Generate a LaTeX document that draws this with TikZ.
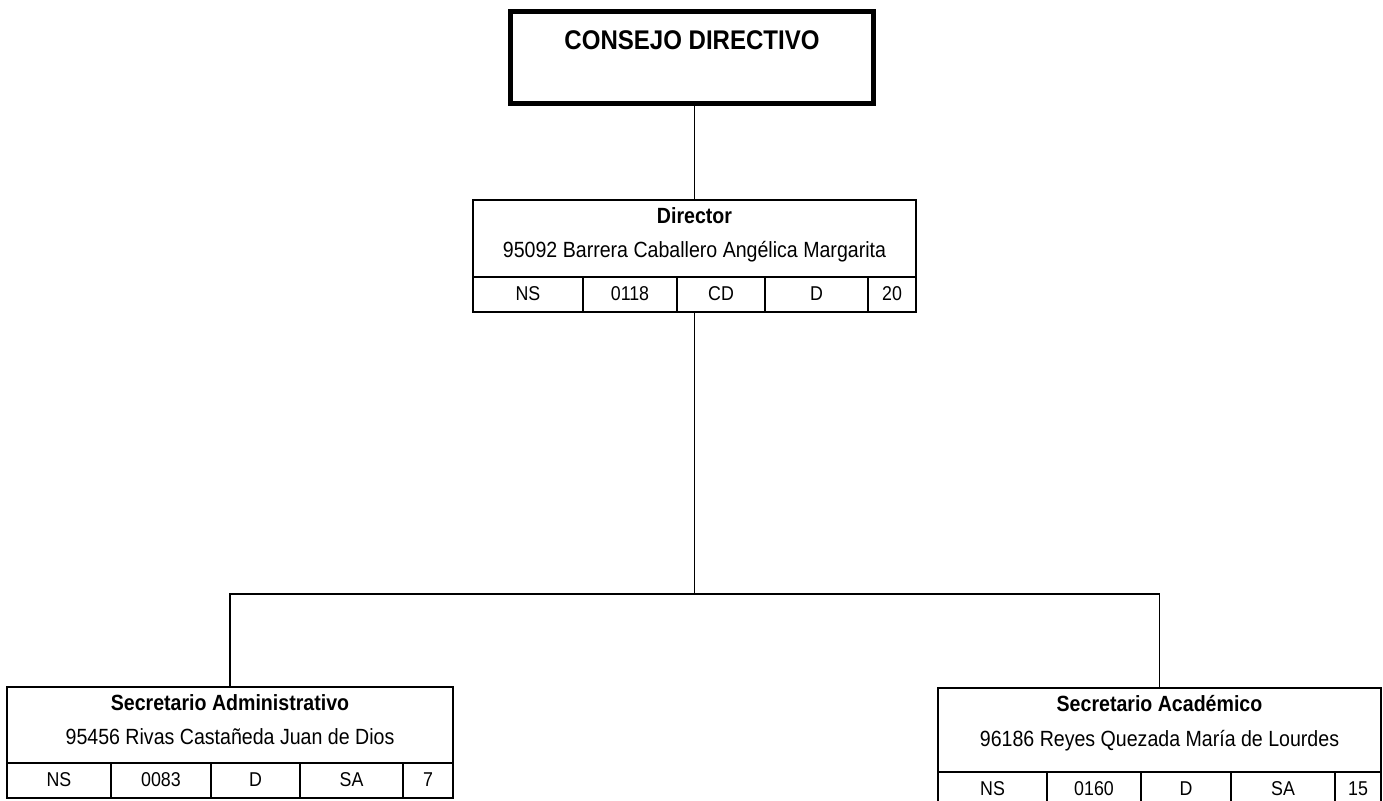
\documentclass[tikz,border=0pt]{standalone}
\usepackage{fontspec}
\setmainfont{Liberation Sans}[FakeStretch=0.89]
\usepackage{tikz}

\begin{document}
\begin{tikzpicture}[x=1pt,y=-1pt,line width=2pt]
    \tikzstyle{box}=[draw,rectangle,inner sep=0pt]
    \tikzstyle{cell}=[box,minimum height=35pt,text height=14pt,text depth=3pt,font=\fontsize{20}{24}\selectfont]
    \tikzstyle{head}=[anchor=base,inner sep=0pt,font=\fontsize{22}{26}\selectfont\bfseries]
    \tikzstyle{person}=[anchor=base,inner sep=0pt,font=\fontsize{22}{26}\selectfont]
    \tikzstyle{link}=[draw,line width=1.8pt]

    \useasboundingbox (0,0) rectangle (1383,800);

    % Consejo directivo
    \node[box,line width=5.5pt,minimum width=363pt,minimum height=92pt] (CD) at (692,57.5) {};
    \node[head,font=\fontsize{27}{32}\selectfont\bfseries] (CD-t) at (692,50) {CONSEJO DIRECTIVO};

    % Director
    \node[box,minimum width=443pt,minimum height=77pt] (dir) at (694.5,238.5) {};
    \node[head] (dir-t) at (694.5,223) {Director};
    \node[person] (dir-n) at (694.5,257) {95092 Barrera Caballero Angélica Margarita};
    \foreach \txt/\a/\b [count=\i] in {NS/473/583,0118/583/677,CD/677/765,D/765/868,20/868/916}
        \node[cell,minimum width={(\b-\a)*1pt}] (D-\i) at ({(\a+\b)/2},294.5) {\txt};

    % Secretario administrativo
    \node[box,minimum width=446pt,minimum height=76pt] (adm) at (230,725) {};
    \node[head] (adm-t) at (230,710) {Secretario Administrativo};
    \node[person] (adm-n) at (230,744) {95456 Rivas Castañeda Juan de Dios};
    \foreach \txt/\a/\b [count=\i] in {NS/7/111,0083/111/211,D/211/300,SA/300/403,7/403/453}
        \node[cell,minimum width={(\b-\a)*1pt}] (A-\i) at ({(\a+\b)/2},780.5) {\txt};

    % Secretario academico
    \node[box,minimum width=443pt,minimum height=84pt] (aca) at (1159.5,730) {};
    \node[head] (aca-t) at (1159.5,711) {Secretario Académico};
    \node[person] (aca-n) at (1159.5,746) {96186 Reyes Quezada María de Lourdes};
    \foreach \txt/\a/\b [count=\i] in {NS/938/1047,0160/1047/1141,D/1141/1231,SA/1231/1335,15/1335/1381}
        \node[cell,minimum width={(\b-\a)*1pt}] (C-\i) at ({(\a+\b)/2},789.5) {\txt};

    % Connect the boxes
    \coordinate (J) at (694.5,594);
    \draw[link] (CD.south -| dir.north) -- (dir.north);
    \draw[link] (dir.south |- D-1.south) -- (J);
    \draw[link] (adm.north) |- (J) -| (aca.north);
\end{tikzpicture}
\end{document}
